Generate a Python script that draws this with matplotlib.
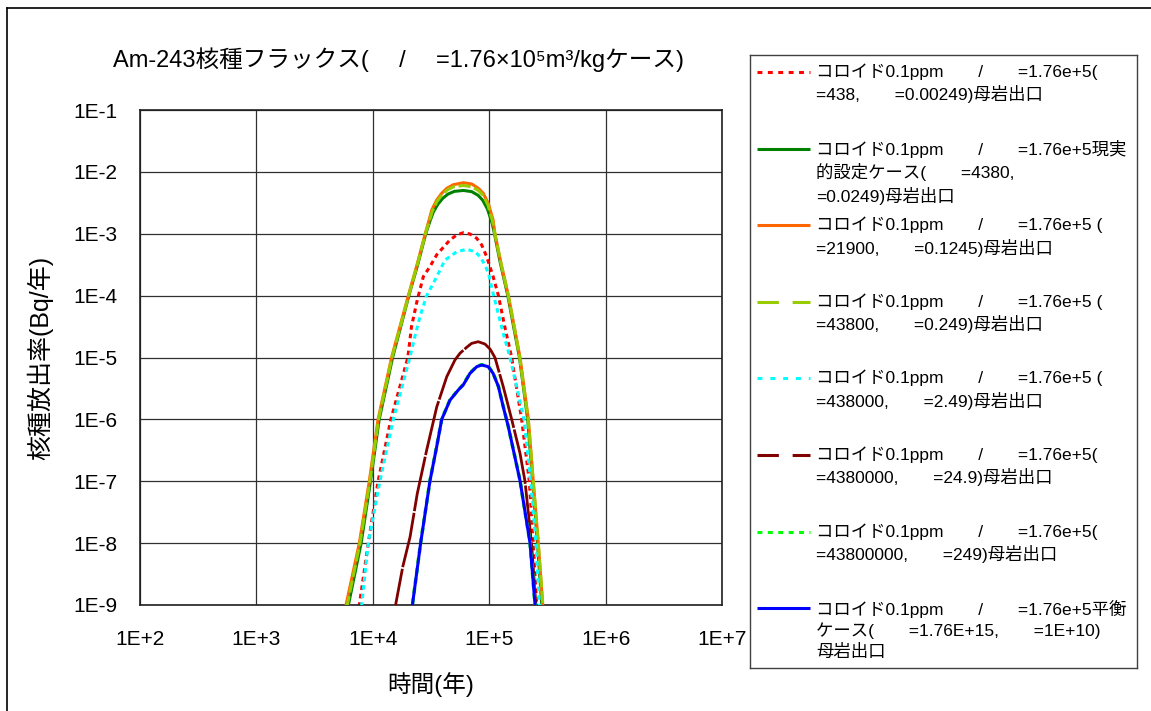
import matplotlib
matplotlib.use("Agg")
import matplotlib.pyplot as plt
from matplotlib import font_manager
from matplotlib.lines import Line2D
from matplotlib.ticker import NullLocator

W, H, DPI = 1151, 711, 100

# ---------------- data: release rate (Bq/y) vs. time (y) ----------------
t_438 = [7.13e3, 7.66e3, 9.14e3, 1.11e4, 1.43e4, 2.0e4, 2.15e4, 2.41e4, 2.72e4, 3.10e4,
         3.54e4, 4.04e4, 4.60e4, 5.26e4, 6.0e4, 6.84e4, 7.82e4, 8.61e4, 9.51e4, 1.08e5,
         1.20e5, 1.36e5, 1.56e5, 1.90e5, 2.21e5, 2.39e5, 2.56e5, 2.61e5]
r_438 = [5e-10, 1e-9, 1e-8, 1e-7, 1e-6, 1e-5, 3.16e-5, 8.5e-5, 2.04e-4, 2.95e-4,
         4.57e-4, 6.04e-4, 7.94e-4, 9.55e-4, 1.04e-3, 9.91e-4, 8.43e-4, 6.61e-4, 4.27e-4, 2.04e-4,
         1e-4, 3.16e-5, 1e-5, 1e-6, 1e-7, 1e-8, 1e-9, 5e-10]

t_4380 = [5.75e3, 6.17e3, 7.94e3, 9.55e3, 1.135e4, 1.48e4, 2.04e4, 2.43e4, 2.85e4, 3.09e4,
          3.31e4, 3.63e4, 3.98e4, 4.42e4, 5.01e4, 6.0e4, 7.08e4, 8.04e4, 8.81e4, 9.66e4,
          1.06e5, 1.11e5, 1.245e5, 1.445e5, 1.62e5, 1.82e5, 2.14e5, 2.36e5, 2.60e5, 2.83e5,
          2.91e5]
r_4380 = [5e-10, 1e-9, 1e-8, 1e-7, 1e-6, 1e-5, 1e-4, 3.16e-4, 1e-3, 1.58e-3,
          2.24e-3, 3.02e-3, 3.72e-3, 4.37e-3, 4.84e-3, 5.01e-3, 4.79e-3, 4.17e-3, 3.47e-3, 2.51e-3,
          1.48e-3, 1e-3, 3.39e-4, 1e-4, 3.16e-5, 1e-5, 1e-6, 1e-7, 1e-8, 1e-9,
          5e-10]

t_21900 = [5.45e3, 5.89e3, 7.66e3, 9.33e3, 1.11e4, 1.45e4, 2.02e4, 2.40e4, 2.82e4, 3.02e4,
           3.21e4, 3.54e4, 3.91e4, 4.32e4, 4.92e4, 6.0e4, 7.08e4, 8.07e4, 8.89e4, 9.82e4,
           1.08e5, 1.12e5, 1.26e5, 1.46e5, 1.64e5, 1.84e5, 2.17e5, 2.39e5, 2.64e5, 2.88e5,
           2.96e5]
r_21900 = [5e-10, 1e-9, 1e-8, 1e-7, 1e-6, 1e-5, 1e-4, 3.16e-4, 1e-3, 1.58e-3,
           2.42e-3, 3.51e-3, 4.51e-3, 5.42e-3, 6.21e-3, 6.68e-3, 6.37e-3, 5.42e-3, 4.51e-3, 3.10e-3,
           1.67e-3, 1e-3, 3.4e-4, 1e-4, 3.16e-5, 1e-5, 1e-6, 1e-7, 1e-8, 1e-9,
           5e-10]

t_43800 = [5.6e3, 6.03e3, 7.76e3, 9.44e3, 1.12e4, 1.46e4, 2.03e4, 2.41e4, 2.83e4, 3.05e4,
           3.24e4, 3.55e4, 3.94e4, 4.37e4, 4.95e4, 6.0e4, 7.08e4, 8.07e4, 8.89e4, 9.77e4,
           1.07e5, 1.12e5, 1.26e5, 1.46e5, 1.64e5, 1.83e5, 2.16e5, 2.39e5, 2.64e5, 2.89e5,
           2.97e5]
r_43800 = [5e-10, 1e-9, 1e-8, 1e-7, 1e-6, 1e-5, 1e-4, 3.16e-4, 1e-3, 1.58e-3,
           2.29e-3, 3.31e-3, 4.27e-3, 5.13e-3, 5.75e-3, 6.03e-3, 5.75e-3, 5.01e-3, 4.17e-3, 2.88e-3,
           1.58e-3, 1e-3, 3.39e-4, 1e-4, 3.16e-5, 1e-5, 1e-6, 1e-7, 1e-8, 1e-9,
           5e-10]

t_438000 = [7.6e3, 8.02e3, 9.14e3, 1.15e4, 1.50e4, 2.08e4, 2.30e4, 2.54e4, 2.90e4, 3.31e4,
            3.78e4, 4.17e4, 4.60e4, 5.26e4, 6.40e4, 7.55e4, 8.34e4, 9.20e4, 9.89e4, 1.08e5,
            1.32e5, 1.51e5, 1.99e5, 2.27e5, 2.52e5, 2.70e5, 2.76e5]
r_438000 = [5e-10, 1e-9, 1e-8, 1e-7, 1e-6, 1e-5, 2.19e-5, 4.57e-5, 1e-4, 1.58e-4,
            2.59e-4, 3.77e-4, 4.27e-4, 5.13e-4, 5.60e-4, 5.13e-4, 4.27e-4, 3.13e-4, 2.24e-4, 1.09e-4,
            2.45e-5, 1e-5, 1e-6, 1e-7, 1e-8, 1e-9, 5e-10]

t_4380000 = [1.51e4, 1.58e4, 1.81e4, 2.09e4, 2.41e4, 2.90e4, 3.54e4, 4.32e4, 5.08e4, 5.61e4,
             6.40e4, 7.06e4, 8.05e4, 9.20e4, 1.02e5, 1.12e5, 1.32e5, 1.56e5, 1.84e5, 2.03e5,
             2.31e5, 2.52e5, 2.57e5]
r_4380000 = [5e-10, 1.07e-9, 4.17e-9, 1.26e-8, 6.31e-8, 3.16e-7, 1.58e-6, 4.90e-6, 9.12e-6, 1.17e-5,
             1.46e-5, 1.69e-5, 1.80e-5, 1.65e-5, 1.36e-5, 1e-5, 3.39e-6, 1e-6, 2.82e-7, 1e-7,
             1e-8, 1e-9, 5e-10]

t_43800000 = [2.11e4, 2.20e4, 2.58e4, 3.10e4, 3.54e4, 3.91e4, 4.60e4, 5.43e4, 6.0e4, 6.84e4,
              7.82e4, 8.61e4, 9.82e4, 1.08e5, 1.20e5, 1.32e5, 1.46e5, 1.84e5, 2.24e5, 2.47e5,
              2.51e5]
r_43800000 = [5e-10, 1.08e-9, 1.03e-8, 1.03e-7, 3.67e-7, 1.01e-6, 2.06e-6, 3.02e-6, 3.67e-6, 5.61e-6,
              7.18e-6, 7.65e-6, 7.18e-6, 5.61e-6, 3.42e-6, 1.62e-6, 7.67e-7, 1.03e-7, 1.03e-8, 1.08e-9,
              5e-10]

t_eq = [2.11e4, 2.20e4, 2.58e4, 3.10e4, 3.54e4, 3.91e4, 4.60e4, 5.43e4, 6.0e4, 6.84e4,
        7.82e4, 8.61e4, 9.82e4, 1.08e5, 1.20e5, 1.32e5, 1.46e5, 1.84e5, 2.24e5, 2.47e5,
        2.51e5]
r_eq = [5e-10, 1.07e-9, 1.02e-8, 1.02e-7, 3.63e-7, 1e-6, 2.04e-6, 2.99e-6, 3.63e-6, 5.55e-6,
        7.11e-6, 7.57e-6, 7.11e-6, 5.55e-6, 3.39e-6, 1.60e-6, 7.59e-7, 1.02e-7, 1.02e-8, 1.07e-9,
        5e-10]

x_ticks = [1e2, 1e3, 1e4, 1e5, 1e6, 1e7]
x_tick_labels = ["1E+2", "1E+3", "1E+4", "1E+5", "1E+6", "1E+7"]
y_ticks = [1e-9, 1e-8, 1e-7, 1e-6, 1e-5, 1e-4, 1e-3, 1e-2, 1e-1]
y_tick_labels = ["1E-9", "1E-8", "1E-7", "1E-6", "1E-5", "1E-4", "1E-3", "1E-2", "1E-1"]

GAP = "\u3000\u3000"
labels = [
    f"コロイド0.1ppm{GAP}/{GAP}=1.76e+5(\n=438,{GAP}=0.00249)母岩出口",
    f"コロイド0.1ppm{GAP}/{GAP}=1.76e+5現実\n的設定ケース({GAP}=4380,\n=0.0249)母岩出口",
    f"コロイド0.1ppm{GAP}/{GAP}=1.76e+5 (\n=21900,{GAP}=0.1245)母岩出口",
    f"コロイド0.1ppm{GAP}/{GAP}=1.76e+5 (\n=43800,{GAP}=0.249)母岩出口",
    f"コロイド0.1ppm{GAP}/{GAP}=1.76e+5 (\n=438000,{GAP}=2.49)母岩出口",
    f"コロイド0.1ppm{GAP}/{GAP}=1.76e+5(\n=4380000,{GAP}=24.9)母岩出口",
    f"コロイド0.1ppm{GAP}/{GAP}=1.76e+5(\n=43800000,{GAP}=249)母岩出口",
    f"コロイド0.1ppm{GAP}/{GAP}=1.76e+5平衡\nケース({GAP}=1.76E+15,{GAP}=1E+10)\n母岩出口",
]
title = "Am-243核種フラックス(\u3000 /\u3000 =1.76×10⁵m³/kgケース)"

# ---------------- fonts ----------------
available = {f.name for f in font_manager.fontManager.ttflist}
narrow = "Liberation Sans Narrow" in available
plt.rcParams["font.family"] = ["Liberation Sans", "Noto Sans CJK JP", "DejaVu Sans"]
tick_family = (["Liberation Sans Narrow", "Noto Sans CJK JP", "DejaVu Sans"] if narrow
               else ["Liberation Sans", "Noto Sans CJK JP", "DejaVu Sans"])
tick_size = 17 if narrow else 15

# ---------------- series styles ----------------
dot = (0, (1.5, 1.3))
series = [
    (t_438, r_438, dict(color="#FF0000", lw=2.2, ls=dot), (0, (1.6, 1.8))),
    (t_4380, r_4380, dict(color="#008000", lw=2.2, ls="-"), "-"),
    (t_21900, r_21900, dict(color="#FF6600", lw=2.2, ls="-"), "-"),
    (t_43800, r_43800, dict(color="#99CC00", lw=2.2, ls=(0, (4, 1.2))), (0, (7, 4.5))),
    (t_438000, r_438000, dict(color="#00FFFF", lw=2.2, ls=dot), (0, (1.6, 2.6))),
    (t_4380000, r_4380000, dict(color="#800000", lw=2.0, ls=(0, (20, 0.6))), (0, (7, 4.5))),
    (t_43800000, r_43800000, dict(color="#00FF00", lw=2.6, ls=dot), (0, (1.6, 1.8))),
    (t_eq, r_eq, dict(color="#0000FF", lw=2.2, ls="-"), "-"),
]

fig = plt.figure(figsize=(W / DPI, H / DPI), dpi=DPI)

# outer frame of the sheet
fig.add_artist(Line2D([7 / W, 7 / W], [0, 1 - 8 / H], transform=fig.transFigure,
                      color="black", lw=1.2))
fig.add_artist(Line2D([7 / W, 1], [1 - 8 / H, 1 - 8 / H], transform=fig.transFigure,
                      color="black", lw=1.2))

ax = fig.add_axes([140 / W, 1 - 605 / H, 582 / W, 495 / H])
for z, (t, r, st, _) in enumerate(series):
    ax.plot(t, r, zorder=2 + z, solid_capstyle="butt", dash_capstyle="butt",
            solid_joinstyle="round", **st)

ax.set_xscale("log")
ax.set_yscale("log")
ax.set_xlim(1e2, 1e7)
ax.set_ylim(1e-9, 1e-1)
ax.set_xticks(x_ticks)
ax.set_xticklabels(x_tick_labels)
ax.set_yticks(y_ticks)
ax.set_yticklabels(y_tick_labels)
ax.xaxis.set_minor_locator(NullLocator())
ax.yaxis.set_minor_locator(NullLocator())
ax.tick_params(axis="x", length=0, pad=18)
ax.tick_params(axis="y", length=0, pad=16)
for lab in ax.get_xticklabels() + ax.get_yticklabels():
    lab.set_fontfamily(tick_family)
    lab.set_fontsize(tick_size)
ax.grid(True, which="major", color="#303030", lw=0.9)
ax.set_axisbelow(True)
for sp in ax.spines.values():
    sp.set_color("#202020")
    sp.set_linewidth(1.2)

ax.set_xlabel("時間(年)", fontsize=17, va="center")
ax.xaxis.set_label_coords(0.5, -(685 - 605) / 495)
ax.set_ylabel("核種放出率(Bq/年)", fontsize=18, va="center")
ax.yaxis.set_label_coords(-(140 - 40) / 582, 0.5)

fig.text(113 / W, 1 - 60 / H, title, ha="left", va="center", fontsize=17)

# ---------------- legend panel ----------------
lx0, ly0, lx1, ly1 = 750, 55, 1137, 668
leg = fig.add_axes([lx0 / W, 1 - ly1 / H, (lx1 - lx0) / W, (ly1 - ly0) / H])
leg.set_xlim(0, lx1 - lx0)
leg.set_ylim(ly1 - ly0, 0)
leg.set_xticks([])
leg.set_yticks([])
for sp in leg.spines.values():
    sp.set_color("#404040")
    sp.set_linewidth(1.0)

for i, ((_, _, st, leg_ls), lab) in enumerate(zip(series, labels)):
    y = 17 + 76.6 * i
    leg.plot([7, 60], [y, y], color=st["color"], lw=2.2, ls=leg_ls,
             solid_capstyle="butt", dash_capstyle="butt")
    leg.text(66, y - 8.5, lab, ha="left", va="top", fontsize=12.5, linespacing=1.35)

fig.savefig("out.png", dpi=DPI)
